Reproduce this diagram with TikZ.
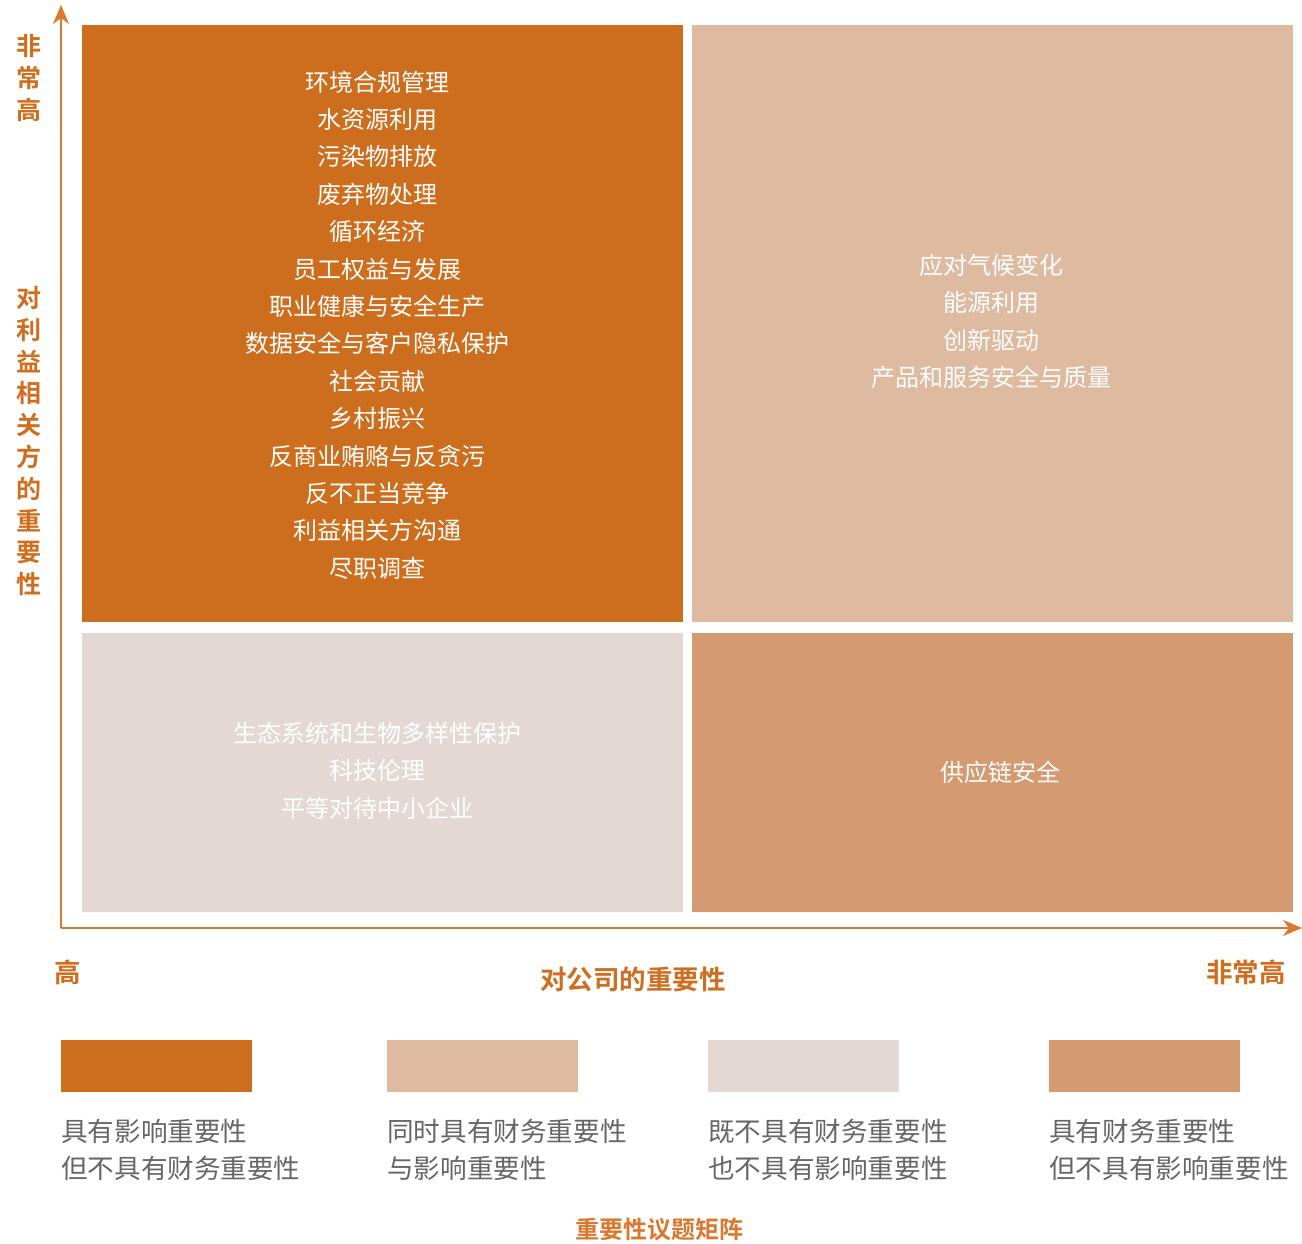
\documentclass[tikz,border=0pt]{standalone}
\usepackage{fontspec}
\setmainfont{Noto Sans CJK SC}
\newfontfamily\cjkb{Noto Sans CJK SC Bold}
\usetikzlibrary{arrows.meta}
\definecolor{cOrange}{HTML}{CD6E1E}
\definecolor{cTan}{HTML}{DDBAA0}
\definecolor{cPale}{HTML}{E3D8D4}
\definecolor{cMid}{HTML}{D49A72}
\definecolor{cAxis}{HTML}{D9782E}
\definecolor{cLab}{HTML}{D06E20}
\definecolor{cGray}{HTML}{666666}
\tikzset{
  quad/.style={draw=none,inner sep=0pt,anchor=north west},
  boxtxt/.style={text=white,font=\fontsize{24}{28}\selectfont,inner sep=0pt,anchor=center},
  axlab/.style={text=cLab,font=\cjkb\fontsize{25}{28}\selectfont,inner sep=0pt,anchor=center},
  hlab/.style={text=cLab,font=\cjkb\fontsize{26.5}{30}\selectfont,inner sep=0pt,anchor=center},
  legtxt/.style={text=cGray,font=\fontsize{26.6}{37}\selectfont,align=left,inner sep=0pt,anchor=north west},
  axisline/.style={draw=cAxis,line width=1.6pt,-{Stealth[length=19pt,width=16pt,inset=6pt]}}
}
\begin{document}
\begin{tikzpicture}[x=1pt,y=-1pt]
\useasboundingbox[fill=white] (0,0) rectangle (1302,1244);
% quadrants
\fill[cOrange] (82,25) rectangle (683,622);
\fill[cTan] (692,25) rectangle (1293,622);
\fill[cPale] (82,633) rectangle (683,912);
\fill[cMid] (692,633) rectangle (1293,912);
\node[quad,minimum width=601pt,minimum height=597pt] (q1) at (82,25) {};
\node[quad,minimum width=601pt,minimum height=597pt] (q2) at (692,25) {};
\node[quad,minimum width=601pt,minimum height=279pt] (q3) at (82,633) {};
\node[quad,minimum width=601pt,minimum height=279pt] (q4) at (692,633) {};
% axes
\coordinate (o) at (61,928);
\coordinate (ytop) at (61,5);
\coordinate (xend) at (1302,928);
\draw[axisline] (o) -- (ytop);
\draw[axisline] (o) -- (xend);
% top-left texts
\foreach \t [count=\i from 0] in {环境合规管理,水资源利用,污染物排放,废弃物处理,循环经济,员工权益与发展,职业健康与安全生产,数据安全与客户隐私保护,社会贡献,乡村振兴,反商业贿赂与反贪污,反不正当竞争,利益相关方沟通,尽职调查}{
  \node[boxtxt] (tl\i) at (377,{82+37.4*\i}) {\t};
}
\foreach \t [count=\i from 0] in {应对气候变化,能源利用,创新驱动,产品和服务安全与质量}{
  \node[boxtxt] (tr\i) at (991,{265+37.5*\i}) {\t};
}
\foreach \t [count=\i from 0] in {生态系统和生物多样性保护,科技伦理,平等对待中小企业}{
  \node[boxtxt] (bl\i) at (377,{733+37.5*\i}) {\t};
}
\node[boxtxt] (br0) at (1000,772) {供应链安全};
% vertical axis label
\foreach \t [count=\i from 0] in {非,常,高}{
  \node[axlab] (va\i) at (29,{46+32*\i}) {\t};
}
\foreach \t [count=\i from 0] in {对,利,益,相,关,方,的,重,要,性}{
  \node[axlab] (vb\i) at (29,{298+31.8*\i}) {\t};
}
% horizontal axis labels
\node[hlab] (hlow) at (68,972) {高};
\node[hlab] (hhigh) at (1246,972) {非常高};
\node[hlab] (htitle) at (633,979) {对公司的重要性};
% legend
\fill[cOrange] (61,1040) rectangle (252,1092);
\fill[cTan] (387,1040) rectangle (578,1092);
\fill[cPale] (708,1040) rectangle (899,1092);
\fill[cMid] (1049,1040) rectangle (1240,1092);
\node[legtxt] (l1) at (61,1119) {具有影响重要性\\但不具有财务重要性};
\node[legtxt] (l2) at (387,1119) {同时具有财务重要性\\与影响重要性};
\node[legtxt] (l3) at (708,1119) {既不具有财务重要性\\也不具有影响重要性};
\node[legtxt] (l4) at (1049,1119) {具有财务重要性\\但不具有影响重要性};
\node[text=cAxis,font=\cjkb\fontsize{24}{28}\selectfont,inner sep=0pt] (cap) at (659,1229) {重要性议题矩阵};
\end{tikzpicture}
\end{document}
